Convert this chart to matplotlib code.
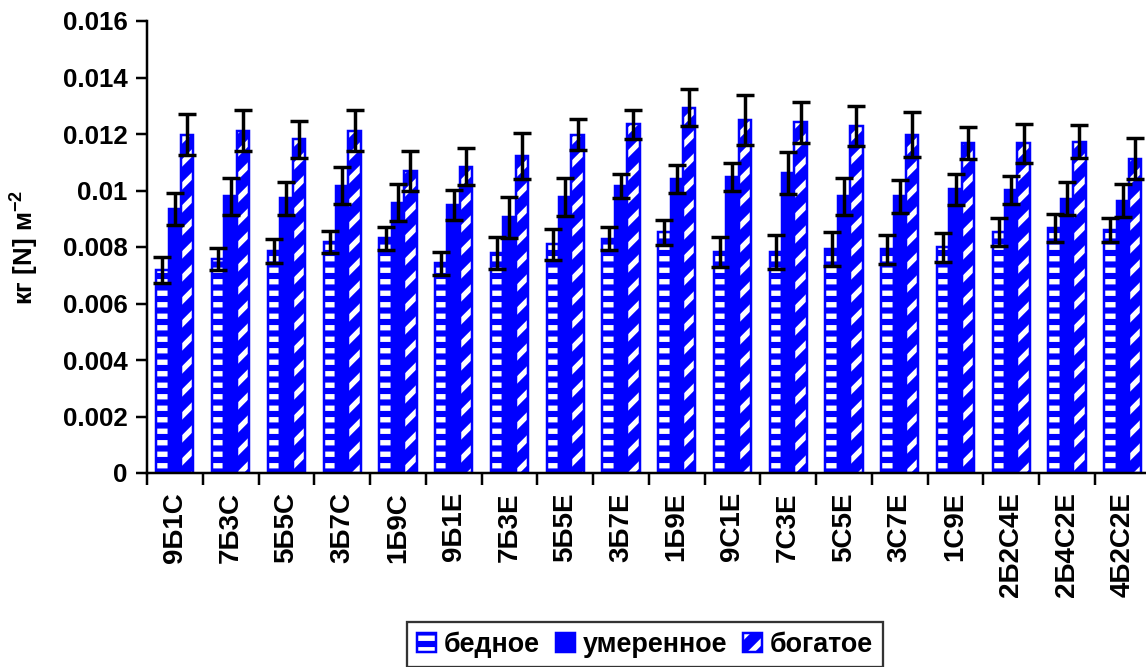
import numpy as np
import matplotlib
matplotlib.use("Agg")
import matplotlib.pyplot as plt
from matplotlib.patches import Patch
from matplotlib.ticker import FixedLocator, FuncFormatter

plt.rcParams['font.family'] = ['Liberation Sans', 'DejaVu Sans']
plt.rcParams['font.weight'] = 'bold'
plt.rcParams['mathtext.fontset'] = 'custom'
plt.rcParams['mathtext.bf'] = 'Liberation Sans:bold'
plt.rcParams['mathtext.default'] = 'bf'
plt.rcParams['hatch.linewidth'] = 2.8

# mixtures (Б, С, Е parts)
mixtures = ['9Б1С', '7Б3С', '5Б5С', '3Б7С', '1Б9С',
            '9Б1Е', '7Б3Е', '5Б5Е', '3Б7Е', '1Б9Е',
            '9С1Е', '7С3Е', '5С5Е', '3С7Е', '1С9Е',
            '2Б2С4Е', '2Б4С2Е', '4Б2С2Е']

poor = [0.00719, 0.00758, 0.00785, 0.00818, 0.00831, 0.00742, 0.00778, 0.0081, 0.0083,
        0.00852, 0.00783, 0.00783, 0.00792, 0.00792, 0.00799, 0.00852, 0.00866, 0.0086]
poor_err = [0.00047, 0.0004, 0.00043, 0.0004, 0.0004, 0.0004, 0.00057, 0.00055, 0.0004,
            0.00044, 0.00053, 0.0006, 0.0006, 0.00052, 0.00052, 0.0005, 0.0005, 0.00043]

moderate = [0.00935, 0.0098, 0.00972, 0.01017, 0.00957, 0.00949, 0.00905, 0.00978, 0.01017,
            0.0104, 0.01047, 0.01061, 0.0098, 0.0098, 0.01004, 0.01002, 0.00971, 0.00964]
moderate_err = [0.00057, 0.00066, 0.00058, 0.00066, 0.00065, 0.00052, 0.00072, 0.00067, 0.00043,
                0.0005, 0.0005, 0.00074, 0.00065, 0.00058, 0.00056, 0.0005, 0.00059, 0.00058]

rich = [0.01197, 0.01212, 0.01181, 0.01212, 0.01069, 0.01084, 0.01122, 0.01198, 0.01234,
        0.01293, 0.01249, 0.01241, 0.01228, 0.01197, 0.01167, 0.01167, 0.01173, 0.01113]
rich_err = [0.00073, 0.00072, 0.00066, 0.00072, 0.00072, 0.00065, 0.0008, 0.00055, 0.0005,
            0.00066, 0.00088, 0.00072, 0.00072, 0.0008, 0.00057, 0.0007, 0.00059, 0.00073]

series = [('бедное', poor, poor_err, '--'),
          ('умеренное', moderate, moderate_err, None),
          ('богатое', rich, rich_err, '//')]

blue = '#0000ff'
dpi = 138
fig = plt.figure(figsize=(1146 / dpi, 667 / dpi), dpi=dpi)
ax = fig.add_axes([147 / 1146, 1 - 473 / 667, 1 - 147 / 1146, (473 - 21) / 667])

x = np.arange(len(mixtures))
w = 1 / 4.5
handles = []
for k, (name, vals, errs, hatch) in enumerate(series):
    pos = x + (k - 1) * w
    # fill + white hatch, then a blue outline on top
    ax.bar(pos, vals, w, color=blue, edgecolor='white' if hatch else blue,
           hatch=hatch, linewidth=0, zorder=2)
    ax.bar(pos, vals, w, facecolor='none', edgecolor=blue, linewidth=1.3, zorder=2)
    ax.errorbar(pos, vals, yerr=errs, fmt='none', ecolor='black',
                elinewidth=1.8, capsize=4.5, capthick=1.8, zorder=4)
    h1 = Patch(facecolor=blue, edgecolor='white' if hatch else blue, hatch=hatch, linewidth=0)
    h2 = Patch(facecolor='none', edgecolor=blue, linewidth=1.3)
    handles.append(((h1, h2), name))

ax.set_ylim(0, 0.016)
ax.set_xlim(-0.5, -0.5 + (1146 - 147) / 55.76)
ax.set_yticks(np.arange(0, 0.0161, 0.002))
ax.yaxis.set_major_formatter(FuncFormatter(lambda v, p: '0' if v == 0 else f'{v:g}'))
ax.set_xticks(x)
ax.set_xticklabels(mixtures, rotation=90, fontsize=14.5, fontweight='bold')
ax.xaxis.set_minor_locator(FixedLocator(np.arange(-0.5, 17.6, 1)))
ax.tick_params(axis='x', which='major', length=0, pad=10)
ax.tick_params(axis='x', which='minor', length=6, width=1.3, direction='out')
ax.tick_params(axis='y', length=6, width=1.3, direction='out', labelsize=13.5, pad=4)
for lab in ax.get_yticklabels():
    lab.set_fontweight('bold')

for side in ['top', 'right']:
    ax.spines[side].set_visible(False)
for side in ['left', 'bottom']:
    ax.spines[side].set_linewidth(1.3)
    ax.spines[side].set_zorder(5)

ax.set_ylabel('кг [N] м$^{-2}$', fontsize=13.5, fontweight='bold')
ax.yaxis.set_label_coords(-0.106, 0.5)

leg = fig.legend([h for h, _ in handles], [n for _, n in handles],
                 loc='upper center', bbox_to_anchor=(645 / 1146, 1 - 622 / 667),
                 ncol=3, frameon=True, fancybox=False, fontsize=14,
                 handlelength=0.7, handleheight=0.7, handletextpad=0.3,
                 columnspacing=0.6, borderpad=0.35, borderaxespad=0)
leg.get_frame().set_edgecolor('black')
leg.get_frame().set_linewidth(1.2)
for t in leg.get_texts():
    t.set_fontweight('bold')

fig.savefig('out.png', dpi=dpi)
